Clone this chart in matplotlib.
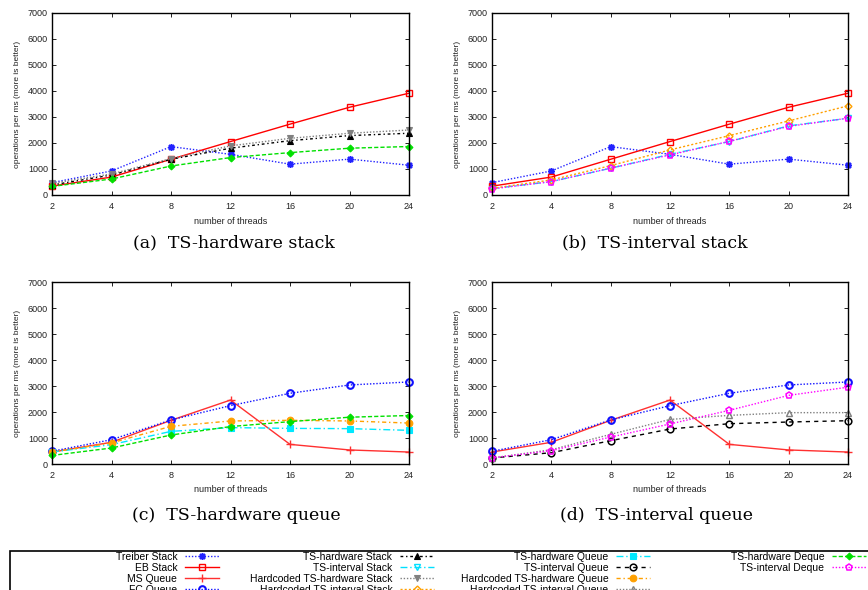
import matplotlib
matplotlib.use("Agg")
import matplotlib.pyplot as plt
from matplotlib.lines import Line2D
from matplotlib.patches import Rectangle

# ---------------- data ----------------
threads = [2, 4, 8, 12, 16, 20, 24]
y_ticks = [0, 1000, 2000, 3000, 4000, 5000, 6000, 7000]

treiber_stack = [475, 925, 1860, 1565, 1185, 1380, 1145]
eb_stack = [340, 690, 1375, 2055, 2725, 3375, 3915]
ms_queue = [460, 835, 1680, 2460, 755, 540, 460]
fc_queue = [490, 935, 1695, 2245, 2720, 3040, 3155]
ts_hw_stack = [385, 770, 1375, 1800, 2090, 2285, 2375]
ts_int_stack = [245, 515, 1030, 1565, 2055, 2660, 2950]
hc_ts_hw_stack = [450, 810, 1400, 1890, 2180, 2375, 2500]
hc_ts_int_stack = [255, 580, 1130, 1735, 2285, 2850, 3430]
ts_hw_queue = [460, 745, 1255, 1400, 1370, 1360, 1295]
ts_int_queue = [230, 435, 895, 1345, 1550, 1615, 1665]
hc_ts_hw_queue = [460, 810, 1450, 1655, 1680, 1655, 1575]
hc_ts_int_queue = [230, 550, 1140, 1715, 1870, 1975, 1975]
ts_hw_deque = [330, 615, 1115, 1440, 1630, 1800, 1865]
ts_int_deque = [235, 515, 1035, 1540, 2065, 2640, 2955]

series = {
    "Treiber Stack": treiber_stack,
    "EB Stack": eb_stack,
    "MS Queue": ms_queue,
    "FC Queue": fc_queue,
    "TS-hardware Stack": ts_hw_stack,
    "TS-interval Stack": ts_int_stack,
    "Hardcoded TS-hardware Stack": hc_ts_hw_stack,
    "Hardcoded TS-interval Stack": hc_ts_int_stack,
    "TS-hardware Queue": ts_hw_queue,
    "TS-interval Queue": ts_int_queue,
    "Hardcoded TS-hardware Queue": hc_ts_hw_queue,
    "Hardcoded TS-interval Queue": hc_ts_int_queue,
    "TS-hardware Deque": ts_hw_deque,
    "TS-interval Deque": ts_int_deque,
}

panels = [
    ("(a)  TS-hardware stack", ["Treiber Stack", "EB Stack", "TS-hardware Stack",
                                "Hardcoded TS-hardware Stack", "TS-hardware Deque"]),
    ("(b)  TS-interval stack", ["Treiber Stack", "EB Stack", "TS-interval Stack",
                                "Hardcoded TS-interval Stack", "TS-interval Deque"]),
    ("(c)  TS-hardware queue", ["MS Queue", "FC Queue", "TS-hardware Queue",
                                "Hardcoded TS-hardware Queue", "TS-hardware Deque"]),
    ("(d)  TS-interval queue", ["MS Queue", "FC Queue", "TS-interval Queue",
                                "Hardcoded TS-interval Queue", "TS-interval Deque"]),
]

# ---------------- styles ----------------
DOT = (0, (1, 1.3))
styles = {
    "Treiber Stack": dict(color="#2222ff", ls=DOT, marker=(8, 2, 0), ms=5, mew=1.1, mfc="none"),
    "EB Stack": dict(color="#ff0000", ls="-", marker="s", ms=5, mew=1.0, mfc="none"),
    "MS Queue": dict(color="#ff3030", ls="-", marker="+", ms=5.5, mew=1.0),
    "FC Queue": dict(color="#1010ff", ls=DOT, marker="o", ms=4.8, mew=1.5, mfc="none"),
    "TS-hardware Stack": dict(color="#000000", ls=(0, (2, 2, 1, 2)), marker="^", ms=3.8, mew=0.8),
    "TS-interval Stack": dict(color="#00e0ff", ls=(0, (5, 2, 1, 2)), marker="v", ms=4.5, mew=1.0, mfc="none"),
    "Hardcoded TS-hardware Stack": dict(color="#808080", ls=DOT, marker="v", ms=3.8, mew=0.8),
    "Hardcoded TS-interval Stack": dict(color="#ffa000", ls=(0, (1.5, 1.5)), marker="D", ms=3.5, mew=1.0, mfc="none"),
    "TS-hardware Queue": dict(color="#00e8ff", ls=(0, (5, 2, 1, 2)), marker="s", ms=4.8, mew=0.8),
    "TS-interval Queue": dict(color="#000000", ls=(0, (3, 3)), marker="o", ms=4.8, mew=1.1, mfc="none"),
    "Hardcoded TS-hardware Queue": dict(color="#ffa000", ls=(0, (3, 2, 1, 2)), marker="o", ms=4.8, mew=0.8),
    "Hardcoded TS-interval Queue": dict(color="#808080", ls=DOT, marker="^", ms=4.5, mew=1.0, mfc="none"),
    "TS-hardware Deque": dict(color="#00e000", ls=(0, (3, 1.5)), marker="D", ms=3.5, mew=0.8),
    "TS-interval Deque": dict(color="#ff00ff", ls=DOT, marker="p", ms=4.8, mew=1.1, mfc="none"),
}

SANS = "Liberation Sans"
W, H = 868, 590
fig = plt.figure(figsize=(W / 100, H / 100), dpi=100)

# axes rectangles in pixels: left, top, right, bottom
rects = [(52, 13, 409, 195), (492, 13, 848, 195), (52, 282, 409, 464), (492, 282, 848, 464)]
captions_xy = [(234, 243), (655, 243), (236, 515), (656, 515)]

xpos = list(range(len(threads)))
for (title, names), (l, t, r, b), (cx, cy) in zip(panels, rects, captions_xy):
    ax = fig.add_axes([l / W, 1 - b / H, (r - l) / W, (b - t) / H])
    for name in names:
        st = styles[name]
        ax.plot(xpos, series[name], color=st["color"], linestyle=st["ls"], lw=1.0,
                marker=st["marker"], markersize=st["ms"], markeredgewidth=st["mew"],
                markerfacecolor=st.get("mfc", st["color"]), markeredgecolor=st["color"],
                clip_on=False)
    ax.set_xlim(0, len(threads) - 1)
    ax.set_ylim(0, 7000)
    ax.set_xticks(xpos)
    ax.set_xticklabels([str(t_) for t_ in threads], fontsize=6.5, family=SANS)
    ax.set_yticks(y_ticks)
    ax.set_yticklabels([str(v) for v in y_ticks], fontsize=6.5, family=SANS)
    ax.tick_params(direction="in", length=3, width=0.7, top=True, right=True, pad=3,
                   colors="#222222")
    ax.tick_params(axis="x", pad=5)
    for sp in ax.spines.values():
        sp.set_linewidth(1.0)
    ax.set_xlabel("number of threads", fontsize=6.5, family=SANS, labelpad=4, color="#222222")
    ax.set_ylabel("operations per ms (more is better)", fontsize=6, family=SANS, labelpad=5,
                  color="#222222")
    fig.text(cx / W, 1 - cy / H, title, ha="center", va="center", fontsize=12.5,
             family="DejaVu Serif")

# ---------------- legend ----------------
order = list(series.keys())
columns = [order[0:4], order[4:8], order[8:12], order[12:14]]
col_right = [219, 434, 650, 866]
top_y = 551
for cols, xr in zip(columns, col_right):
    handles = []
    for name in cols:
        st = styles[name]
        handles.append(Line2D([], [], color=st["color"], linestyle=st["ls"], lw=1.0,
                              marker=st["marker"], markersize=st["ms"],
                              markeredgewidth=st["mew"],
                              markerfacecolor=st.get("mfc", st["color"]),
                              markeredgecolor=st["color"]))
    fig.legend(handles, cols, loc="upper right", bbox_to_anchor=(xr / W, 1 - (top_y + 1) / H),
               frameon=False, markerfirst=False, numpoints=1, handlelength=3.3,
               handletextpad=0.7, labelspacing=0.1, borderpad=0, borderaxespad=0,
               prop=dict(family=SANS, size=7.5))

fig.patches.append(Rectangle((10 / W, -0.5), 2.0, 0.5 + 1 - top_y / H, transform=fig.transFigure,
                             fill=False, edgecolor="black", lw=1.2, clip_on=False))

fig.savefig("out.png", dpi=100)
